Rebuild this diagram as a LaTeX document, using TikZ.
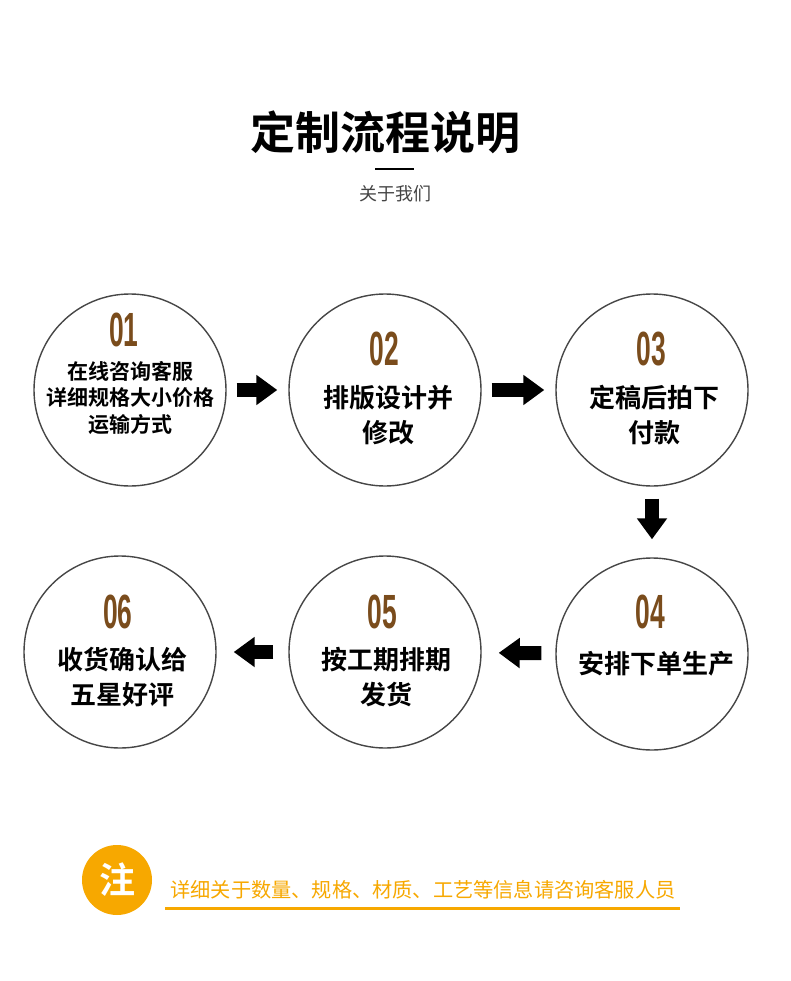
\documentclass[tikz,border=0pt]{standalone}
\usepackage{fontspec}
\usepackage{graphicx}
\usetikzlibrary{arrows.meta,positioning}
\newfontfamily\cjk{Noto Sans CJK SC}[BoldFont={Noto Sans CJK SC Bold}]
\newfontfamily\numfont{Liberation Sans}[BoldFont={Liberation Sans Bold}]
\definecolor{ringgrey}{RGB}{70,70,70}
\definecolor{stepbrown}{RGB}{122,76,28}
\definecolor{noteorange}{RGB}{247,168,0}
\definecolor{subgrey}{RGB}{68,68,68}
\newcommand{\stepno}[1]{\scalebox{0.55}[1]{#1}}
\tikzset{
  stepring/.style={circle,draw=ringgrey,line width=1.4pt,fill=white,
    minimum size=192pt,inner sep=0pt},
  stepnum/.style={font=\numfont\bfseries\fontsize{48}{48}\selectfont,
    text=stepbrown,inner sep=0pt},
  steptext/.style={font=\cjk\bfseries\fontsize{26}{35}\selectfont,
    align=center,inner sep=0pt},
  blockarrow/.style={-{Triangle[length=21pt,width=29pt]},line width=14pt,draw=black},
  notetext/.style={font=\cjk\fontsize{20.2}{20.2}\selectfont,text=noteorange,inner sep=0pt}
}
\begin{document}
\begin{tikzpicture}[x=1pt,y=-1pt]
  \useasboundingbox[fill=white] (0,0) rectangle (790,981);
  % heading
  \node[font=\cjk\bfseries\fontsize{45}{45}\selectfont,inner sep=0pt] (title) at (385,132) {定制流程说明};
  \coordinate (ruleL) at (375,169);
  \coordinate (ruleR) at (414,169);
  \draw[line width=2pt] (ruleL) -- (ruleR);
  \node[font=\cjk\fontsize{18}{18}\selectfont,text=subgrey,inner sep=0pt] (sub) at (395,194) {关于我们};
  % steps
  \node[stepring] (c1) at (130,390) {};
  \node[stepring] (c2) at (385,390) {};
  \node[stepring] (c3) at (652,390) {};
  \node[stepring] (c4) at (652,654) {};
  \node[stepring] (c5) at (385,652) {};
  \node[stepring] (c6) at (120,652) {};
  \node[stepnum] (n1) at (124,330) {\stepno{01}};
  \node[stepnum] (n2) at (384,349) {\stepno{02}};
  \node[stepnum] (n3) at (651,349) {\stepno{03}};
  \node[stepnum] (n4) at (650,612) {\stepno{04}};
  \node[stepnum] (n5) at (382,612) {\stepno{05}};
  \node[stepnum] (n6) at (118,612) {\stepno{06}};
  \node[steptext,font=\cjk\bfseries\fontsize{21}{26.5}\selectfont] (t1) at (130,398)
    {在线咨询客服\\详细规格大小价格\\运输方式};
  \node[steptext] (t2) at (388,415) {排版设计并\\修改};
  \node[steptext] (t3) at (654,415) {定稿后拍下\\付款};
  \node[steptext] (t4) at (656,664) {安排下单生产};
  \node[steptext] (t5) at (386,677) {按工期排期\\发货};
  \node[steptext] (t6) at (122,677) {收货确认给\\五星好评};
  % arrows
  \draw[blockarrow,shorten <=10pt,shorten >=11pt] (c1) -- (c2);
  \draw[blockarrow,shorten <=10pt,shorten >=11pt] (c2) -- (c3);
  \draw[blockarrow,shorten <=12pt,shorten >=18pt] (c3) -- (c4);
  \draw[blockarrow,shorten <=14pt,shorten >=17pt] (c4) -- (c5);
  \draw[blockarrow,shorten <=15pt,shorten >=17pt] (c5) -- (c6);
  % note
  \node[circle,fill=noteorange,minimum size=70pt,inner sep=0pt,text=white,
    font=\cjk\bfseries\fontsize{36}{36}\selectfont] (notemark) at (117,880) {注};
  \node[notetext] (note) at (423,890) {详细关于数量、规格、材质、工艺等信息请咨询客服人员};
  \coordinate (lineL) at (165,908);
  \coordinate (lineR) at (680,908);
  \draw[noteorange,line width=3pt] (lineL) -- (lineR);
\end{tikzpicture}
\end{document}
